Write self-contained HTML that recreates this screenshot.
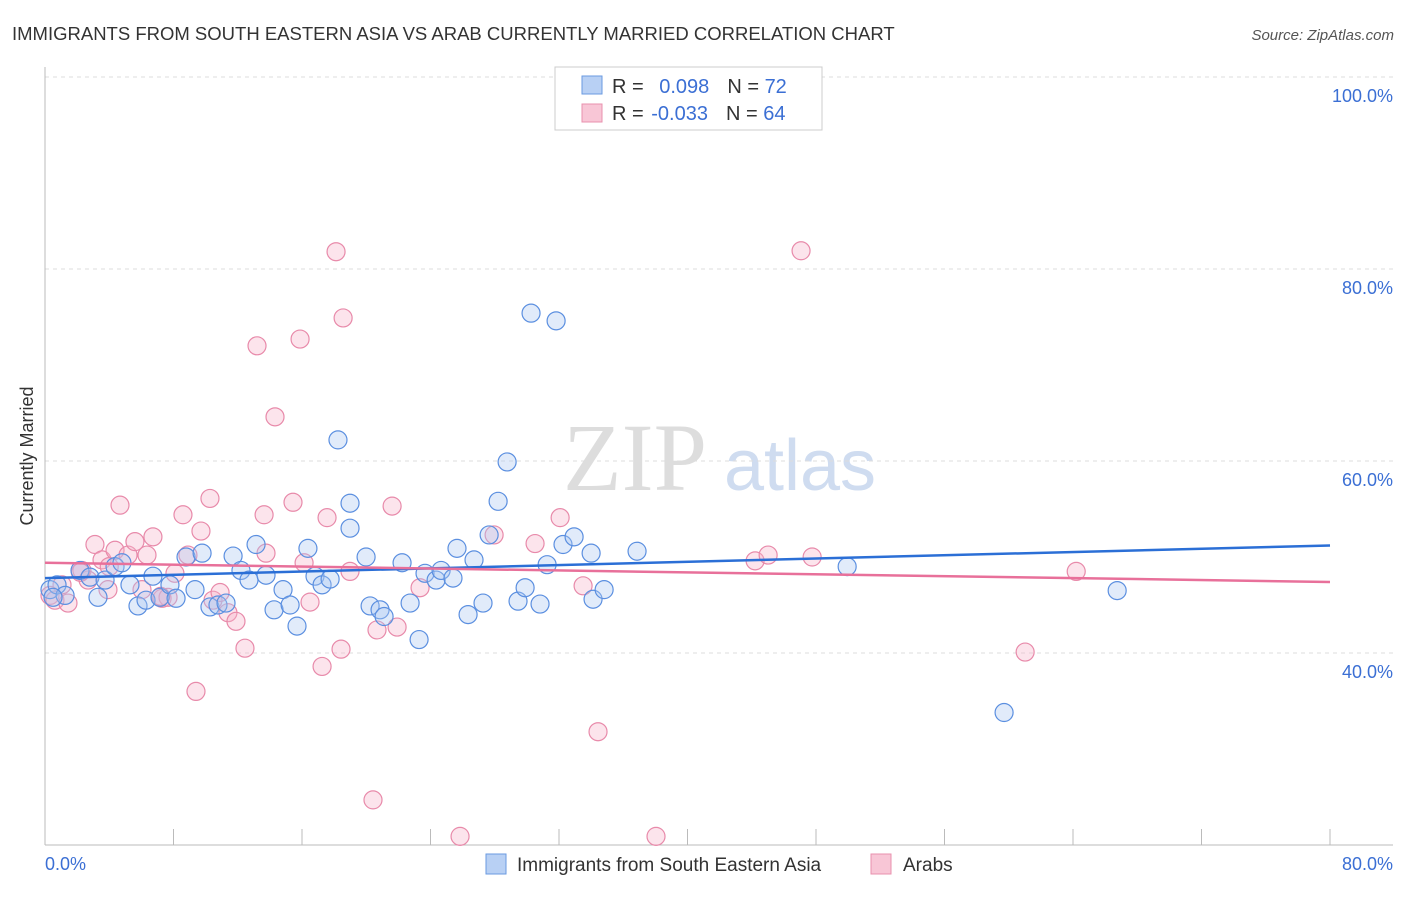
<!DOCTYPE html>
<html><head><meta charset="utf-8"><style>
body{margin:0;background:#fff;font-family:"Liberation Sans",sans-serif;}
svg text{font-family:"Liberation Sans",sans-serif;}
</style></head><body>
<svg width="1406" height="892" viewBox="0 0 1406 892">
<text x="12" y="40" font-size="18.5" fill="#333" font-weight="300">IMMIGRANTS FROM SOUTH EASTERN ASIA VS ARAB CURRENTLY MARRIED CORRELATION CHART</text>
<text x="1394" y="40" font-size="15" fill="#555" font-style="italic" text-anchor="end">Source: ZipAtlas.com</text>
<text x="33" y="456" font-size="18" fill="#333" transform="rotate(-90 33 456)" text-anchor="middle">Currently Married</text>
<g><text x="635" y="490" font-size="96" fill="#ddd" text-anchor="middle" style="font-family:'Liberation Serif',serif">ZIP</text><text x="800" y="490" font-size="72" fill="#cfdcf0" text-anchor="middle">atlas</text></g>
<g id="grid"></g><g id="axes"></g><g id="pts"></g><g id="trend"></g>
<g>
<rect x="555" y="67" width="267" height="63" fill="#fff" stroke="#ccc"/>
<rect x="582" y="76" width="20" height="18" fill="#b8d0f4" stroke="#6a9ae0"/>
<rect x="582" y="104" width="20" height="18" fill="#f8c6d6" stroke="#e890ae"/>
<text x="612" y="93" font-size="20" fill="#333">R = <tspan fill="#3b6fd4" dx="10">0.098</tspan><tspan dx="18" fill="#333">N = </tspan><tspan fill="#3b6fd4">72</tspan></text>
<text x="612" y="120" font-size="20" fill="#333">R = <tspan fill="#3b6fd4" dx="2">-0.033</tspan><tspan dx="18" fill="#333">N = </tspan><tspan fill="#3b6fd4">64</tspan></text>
</g>
<g>
<rect x="486" y="854" width="20" height="20" fill="#b8d0f4" stroke="#6a9ae0"/>
<text x="517" y="871" font-size="19" fill="#333">Immigrants from South Eastern Asia</text>
<rect x="871" y="854" width="20" height="20" fill="#f8c6d6" stroke="#e890ae"/>
<text x="903" y="871" font-size="19" fill="#333">Arabs</text>
</g>
</svg>
<script>
const blueX=[0.31,0.75,1.25,2.18,2.8,3.3,3.74,4.36,4.79,5.29,5.79,6.29,6.72,7.16,7.78,8.16,8.78,9.34,9.78,10.27,10.77,11.27,11.71,12.2,12.7,13.14,13.76,14.26,14.82,15.26,15.69,16.37,16.81,17.25,17.75,18.24,18.99,18.99,19.99,20.24,20.86,21.11,22.23,22.73,23.29,23.66,24.35,24.66,25.4,25.65,26.34,26.71,27.27,27.65,28.21,28.77,29.45,29.89,30.26,30.82,31.26,31.82,32.25,32.94,34.0,34.12,34.81,36.86,49.94,59.71,66.75,0.5];
const blueY=[46.6,47.1,46.0,48.6,47.9,45.8,47.6,49.0,49.4,47.1,44.9,45.5,48.0,45.8,47.1,45.7,50.0,46.6,50.4,44.8,45.0,45.2,50.1,48.6,47.6,51.3,48.1,44.5,46.6,45.0,42.8,50.9,48.0,47.1,47.7,62.2,55.6,53.0,50.0,44.9,44.5,43.8,49.4,45.2,41.4,48.3,47.6,48.6,47.8,50.9,44.0,49.7,45.2,52.3,55.8,59.9,45.4,46.8,75.4,45.1,49.2,74.6,51.3,52.1,50.4,45.6,46.6,50.6,49.0,33.8,46.5,45.8];
const pinkX=[0.31,0.62,1.06,1.43,2.3,2.68,3.11,3.55,3.92,4.36,4.67,5.17,5.6,6.04,6.35,6.72,7.29,7.66,8.09,8.59,8.9,9.4,9.71,10.27,10.46,10.9,11.39,11.89,12.45,13.2,13.64,13.76,14.32,15.44,15.88,16.13,16.5,17.25,17.56,18.12,18.43,18.56,18.99,20.42,20.67,21.61,21.92,23.35,25.84,27.96,30.51,32.07,33.5,34.43,38.04,44.21,45.02,47.07,47.76,61.02,64.2,2.2,7.2,4.0];
const pinkY=[46.0,45.5,47.1,45.2,48.6,47.6,51.3,49.7,46.6,50.7,55.4,50.2,51.6,46.6,50.2,52.1,45.7,45.8,48.3,54.4,50.2,36.0,52.7,56.1,45.5,46.3,44.2,43.3,40.5,72.0,54.4,50.4,64.6,55.7,72.7,49.4,45.3,38.6,54.1,81.8,40.4,74.9,48.5,24.7,42.4,55.3,42.7,46.8,20.9,52.3,51.4,54.1,47.0,31.8,20.9,49.6,50.2,81.9,50.0,40.1,48.5,48.4,45.9,49.0];
const blueTrend=[47.8,51.2];
const pinkTrend=[49.4,47.4];
const yTicks=[40,60,80,100];
const xTicks=[0,8,16,24,32,40,48,56,64,72,80];
const NS="http://www.w3.org/2000/svg";
const sx=v=>45+v*1285/80, sy=v=>1037-v*9.6;
function mk(t,a,p){const e=document.createElementNS(NS,t);for(const k in a)e.setAttribute(k,a[k]);p.appendChild(e);return e;}
const grid=document.getElementById('grid'),axes=document.getElementById('axes'),pts=document.getElementById('pts'),tr=document.getElementById('trend');
yTicks.forEach(v=>{const l=mk('line',{x1:45,x2:1393,y1:sy(v),y2:sy(v),stroke:'#ddd','stroke-dasharray':'4,4'},grid);


const t=mk('text',{x:1393,y:sy(v)+25,'font-size':18,fill:'#3b6fd4','text-anchor':'end'},grid);t.textContent=v.toFixed(1)+'%';

});
const ax=mk('line',{x1:45,x2:1393,y1:845,y2:845,stroke:'#bbb'},axes);


const ay=mk('line',{x1:45,x2:45,y1:67,y2:845,stroke:'#bbb'},axes);


xTicks.forEach(v=>{const l=mk('line',{x1:sx(v),x2:sx(v),y1:829,y2:845,stroke:'#bbb'},axes);

});
[[0,45,'start'],[80,1393,'end']].forEach(([v,x,a])=>{const t=mk('text',{x:x,y:870,'font-size':18,fill:'#3b6fd4','text-anchor':a},axes);t.textContent=v.toFixed(1)+'%';

});
function draw(X,Y,fill,stroke,name){X.forEach((x,i)=>{const c=mk('circle',{cx:sx(x),cy:sy(Y[i]),r:9,fill:fill,'fill-opacity':0.35,stroke:stroke,'stroke-width':1.2},pts);

});}
draw(pinkX,pinkY,'#f5b3c8','#e88aaa','point-arabs');
draw(blueX,blueY,'#a9c7f0','#5b8fe0','point-sea');
const bl=mk('line',{x1:sx(0),x2:sx(80),y1:sy(blueTrend[0]),y2:sy(blueTrend[1]),stroke:'#2b6fd6','stroke-width':2.5},tr);


const pl=mk('line',{x1:sx(0),x2:sx(80),y1:sy(pinkTrend[0]),y2:sy(pinkTrend[1]),stroke:'#e8709a','stroke-width':2.5},tr);


</script>
</body></html>
